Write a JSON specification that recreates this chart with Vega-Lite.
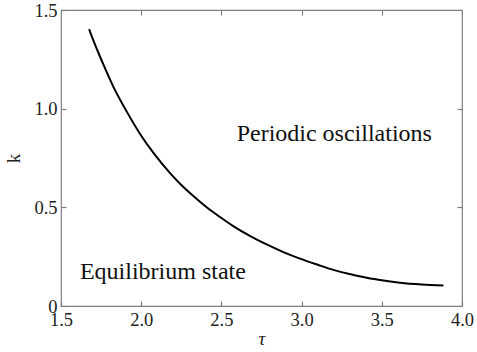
{
  "$schema": "https://vega.github.io/schema/vega-lite/v6.json",
  "width": 401,
  "height": 296,
  "autosize": "none",
  "padding": {"left": 61, "top": 10, "right": 15, "bottom": 46},
  "background": "white",
  "config": {
    "view": {"stroke": "#7f7f7f", "strokeWidth": 1.2},
    "font": "Liberation Serif",
    "text": {"font": "Liberation Serif"},
    "axis": {
      "grid": false,
      "domain": false,
      "labelFlush": false,
      "tickColor": "#7f7f7f",
      "tickSize": -5,
      "tickWidth": 1.2,
      "labelFont": "Liberation Serif",
      "labelFontSize": 18.5,
      "labelColor": "#222",
      "titleFont": "Liberation Serif",
      "titleFontSize": 19,
      "titleFontWeight": "normal",
      "titleColor": "#222"
    }
  },
  "datasets": {
    "curve": [
      {"tau": 1.675, "k": 1.403},
      {"tau": 1.701, "k": 1.347},
      {"tau": 1.76, "k": 1.232},
      {"tau": 1.826, "k": 1.112},
      {"tau": 1.91, "k": 0.985},
      {"tau": 1.993, "k": 0.872},
      {"tau": 2.08, "k": 0.772},
      {"tau": 2.18, "k": 0.673},
      {"tau": 2.25, "k": 0.613},
      {"tau": 2.325, "k": 0.557},
      {"tau": 2.41, "k": 0.499},
      {"tau": 2.491, "k": 0.451},
      {"tau": 2.574, "k": 0.405},
      {"tau": 2.68, "k": 0.354},
      {"tau": 2.782, "k": 0.312},
      {"tau": 2.89, "k": 0.272},
      {"tau": 2.99, "k": 0.240},
      {"tau": 3.1, "k": 0.209},
      {"tau": 3.198, "k": 0.183},
      {"tau": 3.3, "k": 0.162},
      {"tau": 3.406, "k": 0.143},
      {"tau": 3.51, "k": 0.129},
      {"tau": 3.613, "k": 0.118},
      {"tau": 3.75, "k": 0.109},
      {"tau": 3.884, "k": 0.104}
    ],
    "labels": [
      {"tau": 2.595, "k": 0.838, "text": "Periodic oscillations"},
      {"tau": 1.618, "k": 0.135, "text": "Equilibrium state"}
    ]
  },
  "resolve": {"axis": {"x": "independent", "y": "independent"}},
  "layer": [
    {
      "data": {"name": "curve"},
      "mark": {"type": "line", "color": "black", "strokeWidth": 2, "interpolate": "monotone"},
      "encoding": {
        "x": {"field": "tau", "type": "quantitative",
              "scale": {"domain": [1.5, 4.0], "nice": false, "zero": false},
              "axis": {"values": [1.5, 2.0, 2.5, 3.0, 3.5, 4.0], "format": ".1f", "title": "τ", "titleFontStyle": "italic", "labelPadding": 9, "titlePadding": 1}},
        "y": {"field": "k", "type": "quantitative",
              "scale": {"domain": [0, 1.5], "nice": false},
              "axis": {"values": [0, 0.5, 1.0, 1.5], "labelExpr": "datum.value == 0 ? '0' : format(datum.value, '.1f')", "title": "k", "labelPadding": 9, "titlePadding": 10}}
      }
    },
    {
      "data": {"name": "curve"},
      "mark": {"type": "point", "opacity": 0},
      "encoding": {
        "x": {"field": "tau", "type": "quantitative",
              "scale": {"domain": [1.5, 4.0], "nice": false, "zero": false},
              "axis": {"orient": "top", "values": [2.0, 2.5, 3.0, 3.5], "labels": false, "title": null}},
        "y": {"field": "k", "type": "quantitative",
              "scale": {"domain": [0, 1.5], "nice": false},
              "axis": {"orient": "right", "values": [0.5, 1.0], "labels": false, "title": null}}
      }
    },
    {
      "data": {"name": "labels"},
      "mark": {"type": "text", "align": "left", "baseline": "alphabetic", "fontSize": 24, "color": "#111"},
      "encoding": {
        "x": {"field": "tau", "type": "quantitative", "axis": null},
        "y": {"field": "k", "type": "quantitative", "axis": null},
        "text": {"field": "text"}
      }
    }
  ]
}
